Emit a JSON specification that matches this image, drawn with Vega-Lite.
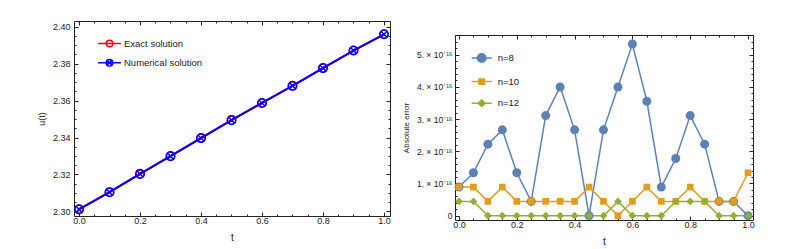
{
  "$schema": "https://vega.github.io/schema/vega-lite/v6.json",
  "background": "white",
  "padding": {"left": 36, "top": 20, "right": 5, "bottom": 2},
  "spacing": 9,
  "resolve": {
    "scale": {"fill": "independent", "stroke": "independent", "shape": "independent", "color": "independent"},
    "legend": {"fill": "independent", "stroke": "independent", "shape": "independent", "color": "independent"}
  },
  "config": {
    "view": {"stroke": "#222", "strokeWidth": 1},
    "font": "Liberation Sans",
    "axis": {"labelFont": "Liberation Sans", "titleFont": "Liberation Sans", "labelColor": "#222", "titleColor": "#222", "titleFontWeight": "normal", "tickColor": "#222", "grid": false, "domain": false, "labelOverlap": false, "labelFlush": false, "labelBound": false},
    "legend": {"padding": 0, "labelFont": "Liberation Sans", "labelColor": "#222"}
  },
  "datasets": {
    "left": [
      {"t": 0.0, "u": 2.3011, "series": "Exact solution"},
      {"t": 0.1, "u": 2.3104, "series": "Exact solution"},
      {"t": 0.2, "u": 2.3203, "series": "Exact solution"},
      {"t": 0.3, "u": 2.3299, "series": "Exact solution"},
      {"t": 0.4, "u": 2.3397, "series": "Exact solution"},
      {"t": 0.5, "u": 2.3494, "series": "Exact solution"},
      {"t": 0.6, "u": 2.3587, "series": "Exact solution"},
      {"t": 0.7, "u": 2.3680, "series": "Exact solution"},
      {"t": 0.8, "u": 2.3776, "series": "Exact solution"},
      {"t": 0.9, "u": 2.3871, "series": "Exact solution"},
      {"t": 1.0, "u": 2.3959, "series": "Exact solution"},
      {"t": 0.0, "u": 2.3011, "series": "Numerical solution"},
      {"t": 0.1, "u": 2.3104, "series": "Numerical solution"},
      {"t": 0.2, "u": 2.3203, "series": "Numerical solution"},
      {"t": 0.3, "u": 2.3299, "series": "Numerical solution"},
      {"t": 0.4, "u": 2.3397, "series": "Numerical solution"},
      {"t": 0.5, "u": 2.3494, "series": "Numerical solution"},
      {"t": 0.6, "u": 2.3587, "series": "Numerical solution"},
      {"t": 0.7, "u": 2.3680, "series": "Numerical solution"},
      {"t": 0.8, "u": 2.3776, "series": "Numerical solution"},
      {"t": 0.9, "u": 2.3871, "series": "Numerical solution"},
      {"t": 1.0, "u": 2.3959, "series": "Numerical solution"}
    ],
    "right": [
      {"t": 0.0, "err": 8.882e-16, "series": "n=8"},
      {"t": 0.05, "err": 1.3323e-15, "series": "n=8"},
      {"t": 0.1, "err": 2.2204e-15, "series": "n=8"},
      {"t": 0.15, "err": 2.6645e-15, "series": "n=8"},
      {"t": 0.2, "err": 1.3323e-15, "series": "n=8"},
      {"t": 0.25, "err": 4.441e-16, "series": "n=8"},
      {"t": 0.3, "err": 3.1086e-15, "series": "n=8"},
      {"t": 0.35, "err": 3.9968e-15, "series": "n=8"},
      {"t": 0.4, "err": 2.6645e-15, "series": "n=8"},
      {"t": 0.45, "err": 0, "series": "n=8"},
      {"t": 0.5, "err": 2.6645e-15, "series": "n=8"},
      {"t": 0.55, "err": 3.9968e-15, "series": "n=8"},
      {"t": 0.6, "err": 5.3291e-15, "series": "n=8"},
      {"t": 0.65, "err": 3.5527e-15, "series": "n=8"},
      {"t": 0.7, "err": 8.882e-16, "series": "n=8"},
      {"t": 0.75, "err": 1.7764e-15, "series": "n=8"},
      {"t": 0.8, "err": 3.1086e-15, "series": "n=8"},
      {"t": 0.85, "err": 2.2204e-15, "series": "n=8"},
      {"t": 0.9, "err": 4.441e-16, "series": "n=8"},
      {"t": 0.95, "err": 4.441e-16, "series": "n=8"},
      {"t": 1.0, "err": 0, "series": "n=8"},
      {"t": 0.0, "err": 8.882e-16, "series": "n=10"},
      {"t": 0.05, "err": 8.882e-16, "series": "n=10"},
      {"t": 0.1, "err": 4.441e-16, "series": "n=10"},
      {"t": 0.15, "err": 8.882e-16, "series": "n=10"},
      {"t": 0.2, "err": 4.441e-16, "series": "n=10"},
      {"t": 0.25, "err": 4.441e-16, "series": "n=10"},
      {"t": 0.3, "err": 4.441e-16, "series": "n=10"},
      {"t": 0.35, "err": 4.441e-16, "series": "n=10"},
      {"t": 0.4, "err": 4.441e-16, "series": "n=10"},
      {"t": 0.45, "err": 8.882e-16, "series": "n=10"},
      {"t": 0.5, "err": 4.441e-16, "series": "n=10"},
      {"t": 0.55, "err": 0, "series": "n=10"},
      {"t": 0.6, "err": 4.441e-16, "series": "n=10"},
      {"t": 0.65, "err": 8.882e-16, "series": "n=10"},
      {"t": 0.7, "err": 4.441e-16, "series": "n=10"},
      {"t": 0.75, "err": 4.441e-16, "series": "n=10"},
      {"t": 0.8, "err": 8.882e-16, "series": "n=10"},
      {"t": 0.85, "err": 4.441e-16, "series": "n=10"},
      {"t": 0.9, "err": 4.441e-16, "series": "n=10"},
      {"t": 0.95, "err": 4.441e-16, "series": "n=10"},
      {"t": 1.0, "err": 1.3323e-15, "series": "n=10"},
      {"t": 0.0, "err": 4.441e-16, "series": "n=12"},
      {"t": 0.05, "err": 4.441e-16, "series": "n=12"},
      {"t": 0.1, "err": 0, "series": "n=12"},
      {"t": 0.15, "err": 0, "series": "n=12"},
      {"t": 0.2, "err": 0, "series": "n=12"},
      {"t": 0.25, "err": 0, "series": "n=12"},
      {"t": 0.3, "err": 0, "series": "n=12"},
      {"t": 0.35, "err": 0, "series": "n=12"},
      {"t": 0.4, "err": 0, "series": "n=12"},
      {"t": 0.45, "err": 0, "series": "n=12"},
      {"t": 0.5, "err": 0, "series": "n=12"},
      {"t": 0.55, "err": 4.441e-16, "series": "n=12"},
      {"t": 0.6, "err": 0, "series": "n=12"},
      {"t": 0.65, "err": 0, "series": "n=12"},
      {"t": 0.7, "err": 0, "series": "n=12"},
      {"t": 0.75, "err": 4.441e-16, "series": "n=12"},
      {"t": 0.8, "err": 4.441e-16, "series": "n=12"},
      {"t": 0.85, "err": 4.441e-16, "series": "n=12"},
      {"t": 0.9, "err": 0, "series": "n=12"},
      {"t": 0.95, "err": 0, "series": "n=12"},
      {"t": 1.0, "err": 0, "series": "n=12"}
    ]
  },
  "hconcat": [
    {
      "width": 316,
      "height": 195,
      "data": {"name": "left"},
      "resolve": {"axis": {"x": "independent", "y": "independent"}},
      "layer": [
        {
          "transform": [{"filter": "datum.series == 'Exact solution'"}],
          "mark": {"type": "line", "color": "#ff0000", "strokeWidth": 2},
          "encoding": {
            "x": {"field": "t", "type": "quantitative", "scale": {"domain": [-0.0164, 1.0197], "nice": false, "zero": false},
              "axis": {"orient": "bottom", "title": "t", "titleFontSize": 10, "labelFontSize": 9, "labelPadding": 4.5, "titlePadding": 5,
                "values": [0, 0.05, 0.1, 0.15, 0.2, 0.25, 0.3, 0.35, 0.4, 0.45, 0.5, 0.55, 0.6, 0.65, 0.7, 0.75, 0.8, 0.85, 0.9, 0.95, 1.0],
                "labelExpr": "round(datum.value*100)%20==0 ? format(datum.value,'.1f') : ''",
                "tickSize": {"condition": {"test": "round(datum.value*100)%20==0", "value": -4}, "value": -2}}},
            "y": {"field": "u", "type": "quantitative", "scale": {"domain": [2.2975, 2.4031], "nice": false, "zero": false},
              "axis": {"orient": "left", "title": "u(t)", "titleFontSize": 9, "labelFontSize": 9, "labelPadding": 8, "titlePadding": 6,
                "values": [2.3, 2.305, 2.31, 2.315, 2.32, 2.325, 2.33, 2.335, 2.34, 2.345, 2.35, 2.355, 2.36, 2.365, 2.37, 2.375, 2.38, 2.385, 2.39, 2.395, 2.4],
                "labelExpr": "round(datum.value*1000)%20==0 ? format(datum.value,'.2f') : ''",
                "tickSize": {"condition": {"test": "round(datum.value*1000)%20==0", "value": -4}, "value": -2}}}
          }
        },
        {
          "transform": [{"filter": "datum.series == 'Numerical solution'"}],
          "mark": {"type": "line", "color": "#0000ff", "strokeWidth": 2},
          "encoding": {
            "x": {"field": "t", "type": "quantitative", "scale": {"domain": [-0.0164, 1.0197], "nice": false, "zero": false},
              "axis": {"orient": "top", "title": null, "labels": false,
                "values": [0, 0.05, 0.1, 0.15, 0.2, 0.25, 0.3, 0.35, 0.4, 0.45, 0.5, 0.55, 0.6, 0.65, 0.7, 0.75, 0.8, 0.85, 0.9, 0.95, 1.0],
                "tickSize": {"condition": {"test": "round(datum.value*100)%20==0", "value": -4}, "value": -2}}},
            "y": {"field": "u", "type": "quantitative", "scale": {"domain": [2.2975, 2.4031], "nice": false, "zero": false},
              "axis": {"orient": "right", "title": null, "labels": false,
                "values": [2.3, 2.305, 2.31, 2.315, 2.32, 2.325, 2.33, 2.335, 2.34, 2.345, 2.35, 2.355, 2.36, 2.365, 2.37, 2.375, 2.38, 2.385, 2.39, 2.395, 2.4],
                "tickSize": {"condition": {"test": "round(datum.value*1000)%20==0", "value": -4}, "value": -2}}}
          }
        },
        {
          "transform": [{"filter": "datum.series == 'Exact solution'"}],
          "mark": {"type": "point", "shape": "circle", "filled": false, "color": "#ff0000", "size": 64, "strokeWidth": 1.5, "opacity": 1},
          "encoding": {
            "x": {"field": "t", "type": "quantitative", "axis": null, "scale": {"domain": [-0.0164, 1.0197], "nice": false, "zero": false}},
            "y": {"field": "u", "type": "quantitative", "axis": null, "scale": {"domain": [2.2975, 2.4031], "nice": false, "zero": false}}
          }
        },
        {
          "transform": [{"filter": "datum.series == 'Numerical solution'"}],
          "mark": {"type": "point", "shape": "M1,0A1,1 0 1 1 -1,0A1,1 0 1 1 1,0M-0.7,-0.7L0.7,0.7M-0.7,0.7L0.7,-0.7", "filled": false, "color": "#0000ff", "size": 74, "strokeWidth": 1.5, "opacity": 1},
          "encoding": {
            "x": {"field": "t", "type": "quantitative", "axis": null, "scale": {"domain": [-0.0164, 1.0197], "nice": false, "zero": false}},
            "y": {"field": "u", "type": "quantitative", "axis": null, "scale": {"domain": [2.2975, 2.4031], "nice": false, "zero": false}}
          }
        },
        {
          "transform": [{"filter": "false"}],
          "mark": {"type": "point", "filled": false, "strokeWidth": 1.5, "opacity": 1},
          "encoding": {
            "stroke": {"field": "series", "type": "nominal",
              "scale": {"domain": ["Exact solution", "Numerical solution"], "range": ["#ff0000", "#0000ff"]},
              "legend": {"title": null, "orient": "none", "legendX": 28.5, "legendY": 15.5, "symbolSize": 144, "labelOffset": 7.5, "rowPadding": 5.2, "labelFontSize": 9.5, "symbolStrokeWidth": 1.5, "symbolFillColor": "transparent"}},
            "shape": {"field": "series", "type": "nominal",
              "scale": {"domain": ["Exact solution", "Numerical solution"], "range": [
                "M-1.9,0H1.9M0.55,0A0.55,0.55 0 1 1 -0.55,0A0.55,0.55 0 1 1 0.55,0",
                "M-1.9,0H1.9M0.55,0A0.55,0.55 0 1 1 -0.55,0A0.55,0.55 0 1 1 0.55,0M-0.39,-0.39L0.39,0.39M-0.39,0.39L0.39,-0.39"]},
              "legend": {"title": null, "orient": "none", "legendX": 28.5, "legendY": 15.5, "symbolSize": 144, "labelOffset": 7.5, "rowPadding": 5.2, "labelFontSize": 9.5, "symbolStrokeWidth": 1.5, "symbolFillColor": "transparent"}}
          }
        }
      ]
    },
    {
      "spacing": 8,
      "vconcat": [
        {
          "width": 298,
          "height": 1,
          "data": {"values": []},
          "view": {"stroke": null},
          "mark": {"type": "point"}
        },
        {
          "width": 298,
          "height": 185,
          "data": {"name": "right"},
          "resolve": {"axis": {"x": "independent", "y": "independent"}},
          "layer": [
            {
              "transform": [{"filter": "datum.series == 'n=8'"}],
              "mark": {"type": "line", "color": "#5e81b5", "strokeWidth": 1.5},
              "encoding": {
                "x": {"field": "t", "type": "quantitative", "scale": {"domain": [-0.0138, 1.0173], "nice": false, "zero": false},
                  "axis": {"orient": "bottom", "title": "t", "titleFontSize": 10, "labelFontSize": 9, "labelPadding": 4.5, "titlePadding": 5,
                    "values": [0, 0.05, 0.1, 0.15, 0.2, 0.25, 0.3, 0.35, 0.4, 0.45, 0.5, 0.55, 0.6, 0.65, 0.7, 0.75, 0.8, 0.85, 0.9, 0.95, 1.0],
                    "labelExpr": "round(datum.value*100)%20==0 ? format(datum.value,'.1f') : ''",
                    "tickSize": {"condition": {"test": "round(datum.value*100)%20==0", "value": -4}, "value": -2}}},
                "y": {"field": "err", "type": "quantitative", "scale": {"domain": [-1.34e-16, 5.61e-15], "nice": false, "zero": false},
                  "axis": {"orient": "left", "title": "Absolute error", "titleFontSize": 8, "labelFontSize": 8.5, "labelPadding": 7, "titlePadding": 6,
                    "values": [0, 2e-16, 4e-16, 6e-16, 8e-16, 1e-15, 1.2e-15, 1.4e-15, 1.6e-15, 1.8e-15, 2e-15, 2.2e-15, 2.4e-15, 2.6e-15, 2.8e-15, 3e-15, 3.2e-15, 3.4e-15, 3.6e-15, 3.8e-15, 4e-15, 4.2e-15, 4.4e-15, 4.6e-15, 4.8e-15, 5e-15, 5.2e-15, 5.4e-15, 5.6e-15],
                    "labelExpr": "round(datum.value*1e16)%10==0 ? (round(datum.value*1e15)==0 ? '0' : format(round(datum.value*1e15),'d') + '. × 10⁻¹⁵') : ''",
                    "tickSize": {"condition": {"test": "round(datum.value*1e16)%10==0", "value": -4}, "value": -2}}}
              }
            },
            {
              "transform": [{"filter": "datum.series == 'n=10'"}],
              "mark": {"type": "line", "color": "#e19c24", "strokeWidth": 1.5},
              "encoding": {
                "x": {"field": "t", "type": "quantitative", "scale": {"domain": [-0.0138, 1.0173], "nice": false, "zero": false},
                  "axis": {"orient": "top", "title": null, "labels": false,
                    "values": [0, 0.05, 0.1, 0.15, 0.2, 0.25, 0.3, 0.35, 0.4, 0.45, 0.5, 0.55, 0.6, 0.65, 0.7, 0.75, 0.8, 0.85, 0.9, 0.95, 1.0],
                    "tickSize": {"condition": {"test": "round(datum.value*100)%20==0", "value": -4}, "value": -2}}},
                "y": {"field": "err", "type": "quantitative", "scale": {"domain": [-1.34e-16, 5.61e-15], "nice": false, "zero": false},
                  "axis": {"orient": "right", "title": null, "labels": false,
                    "values": [0, 2e-16, 4e-16, 6e-16, 8e-16, 1e-15, 1.2e-15, 1.4e-15, 1.6e-15, 1.8e-15, 2e-15, 2.2e-15, 2.4e-15, 2.6e-15, 2.8e-15, 3e-15, 3.2e-15, 3.4e-15, 3.6e-15, 3.8e-15, 4e-15, 4.2e-15, 4.4e-15, 4.6e-15, 4.8e-15, 5e-15, 5.2e-15, 5.4e-15, 5.6e-15],
                    "tickSize": {"condition": {"test": "round(datum.value*1e16)%10==0", "value": -4}, "value": -2}}}
              }
            },
            {
              "transform": [{"filter": "datum.series == 'n=12'"}],
              "mark": {"type": "line", "color": "#8fb032", "strokeWidth": 1.5},
              "encoding": {
                "x": {"field": "t", "type": "quantitative", "axis": null, "scale": {"domain": [-0.0138, 1.0173], "nice": false, "zero": false}},
                "y": {"field": "err", "type": "quantitative", "axis": null, "scale": {"domain": [-1.34e-16, 5.61e-15], "nice": false, "zero": false}}
              }
            },
            {
              "transform": [{"filter": "datum.series == 'n=8'"}],
              "mark": {"type": "point", "shape": "circle", "filled": true, "color": "#5e81b5", "size": 81, "opacity": 1},
              "encoding": {
                "x": {"field": "t", "type": "quantitative", "axis": null, "scale": {"domain": [-0.0138, 1.0173], "nice": false, "zero": false}},
                "y": {"field": "err", "type": "quantitative", "axis": null, "scale": {"domain": [-1.34e-16, 5.61e-15], "nice": false, "zero": false}}
              }
            },
            {
              "transform": [{"filter": "datum.series == 'n=10'"}],
              "mark": {"type": "point", "shape": "square", "filled": true, "color": "#e19c24", "size": 45, "opacity": 1},
              "encoding": {
                "x": {"field": "t", "type": "quantitative", "axis": null, "scale": {"domain": [-0.0138, 1.0173], "nice": false, "zero": false}},
                "y": {"field": "err", "type": "quantitative", "axis": null, "scale": {"domain": [-1.34e-16, 5.61e-15], "nice": false, "zero": false}}
              }
            },
            {
              "transform": [{"filter": "datum.series == 'n=12'"}],
              "mark": {"type": "point", "shape": "diamond", "filled": true, "color": "#8fb032", "size": 60, "opacity": 1},
              "encoding": {
                "x": {"field": "t", "type": "quantitative", "axis": null, "scale": {"domain": [-0.0138, 1.0173], "nice": false, "zero": false}},
                "y": {"field": "err", "type": "quantitative", "axis": null, "scale": {"domain": [-1.34e-16, 5.61e-15], "nice": false, "zero": false}}
              }
            },
            {
              "transform": [{"filter": "false"}],
              "mark": {"type": "point", "filled": true, "strokeWidth": 1.5, "opacity": 1},
              "encoding": {
                "fill": {"field": "series", "type": "nominal",
                  "scale": {"domain": ["n=8", "n=10", "n=12"], "range": ["#5e81b5", "#e19c24", "#8fb032"]},
                  "legend": {"title": null, "orient": "none", "legendX": 19.7, "legendY": 30, "symbolSize": 144, "labelOffset": 9, "rowPadding": 8.6, "labelFontSize": 9.5, "symbolStrokeWidth": 1.5}},
                "stroke": {"field": "series", "type": "nominal",
                  "scale": {"domain": ["n=8", "n=10", "n=12"], "range": ["#5e81b5", "#e19c24", "#8fb032"]},
                  "legend": {"title": null, "orient": "none", "legendX": 19.7, "legendY": 30, "symbolSize": 144, "labelOffset": 9, "rowPadding": 8.6, "labelFontSize": 9.5, "symbolStrokeWidth": 1.5}},
                "shape": {"field": "series", "type": "nominal",
                  "scale": {"domain": ["n=8", "n=10", "n=12"], "range": [
                    "M-1.67,0H1.67M0.72,0A0.72,0.72 0 1 1 -0.72,0A0.72,0.72 0 1 1 0.72,0",
                    "M-1.67,0H1.67M-0.45,-0.45H0.45V0.45H-0.45Z",
                    "M-1.67,0H1.67M0,-0.55L0.6,0L0,0.55L-0.6,0Z"]},
                  "legend": {"title": null, "orient": "none", "legendX": 19.7, "legendY": 30, "symbolSize": 144, "labelOffset": 9, "rowPadding": 8.6, "labelFontSize": 9.5, "symbolStrokeWidth": 1.5}}
              }
            }
          ]
        }
      ]
    }
  ]
}
